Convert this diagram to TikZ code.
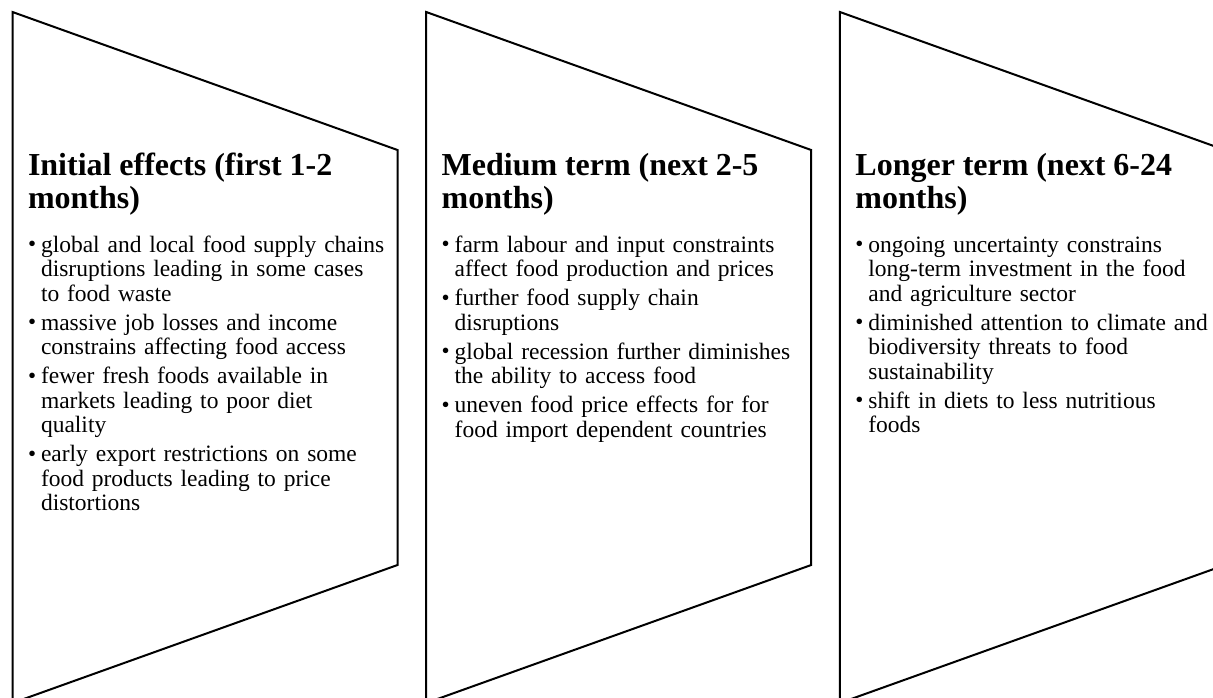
\documentclass[tikz,border=0pt]{standalone}
\usepackage{fontspec}
\setmainfont{Liberation Serif}
\newcommand{\paneltitle}[1]{{\fontsize{32}{33}\selectfont\bfseries\rule{0pt}{23pt}#1\par}}
\newcommand{\pitem}[1]{\par\vspace{\itemgap}\noindent\hangindent=13pt\hangafter=1\makebox[13pt][l]{\hspace{0pt}\raisebox{0.5pt}{\fontsize{23}{23}\selectfont •}}#1\par}
\newlength{\itemgap}
\begin{document}
\begin{tikzpicture}[x=1pt,y=-1pt,
  panel/.style={draw=black,line width=2pt,line join=miter,fill=white},
  paneltext/.style={anchor=north west,inner sep=0pt,outer sep=0pt,text width=390pt,align=left,font=\fontsize{23.5}{24.5}\selectfont}]
\useasboundingbox (0,0) rectangle (1213,697);
\begin{scope}
\clip (0,0) rectangle (1213,697);
\foreach \L in {12.5,426.2,839.9}{
  \draw[panel] (\L,12) -- (\L+385,150) -- (\L+385,565) -- (\L,703) -- cycle;
}
\end{scope}
\node[paneltext] (t1) at (28,152) {%
\paneltitle{Initial effects (first 1-2\\months)}%
\setlength{\itemgap}{19.5pt}%
\pitem{global and local food supply chains\newline disruptions leading in some cases\newline to food waste}%
\setlength{\itemgap}{4.5pt}%
\pitem{massive job losses and income\newline constrains affecting food access}%
\pitem{fewer fresh foods available in\newline markets leading to poor diet\newline quality}%
\pitem{early export restrictions on some\newline food products leading to price\newline distortions}};
\node[paneltext] (t2) at (441.7,152) {%
\paneltitle{Medium term (next 2-5\\months)}%
\setlength{\itemgap}{19.5pt}%
\pitem{farm labour and input constraints\newline affect food production and prices}%
\setlength{\itemgap}{4.5pt}%
\pitem{further food supply chain\newline disruptions}%
\pitem{global recession further diminishes\newline the ability to access food}%
\pitem{uneven food price effects for for\newline food import dependent countries}};
\node[paneltext] (t3) at (855.4,152) {%
\paneltitle{Longer term (next 6-24\\months)}%
\setlength{\itemgap}{19.5pt}%
\pitem{ongoing uncertainty constrains\newline long-term investment in the food\newline and agriculture sector}%
\setlength{\itemgap}{4.5pt}%
\pitem{diminished attention to climate and\newline biodiversity threats to food\newline sustainability}%
\pitem{shift in diets to less nutritious\newline foods}};
\end{tikzpicture}
\end{document}
